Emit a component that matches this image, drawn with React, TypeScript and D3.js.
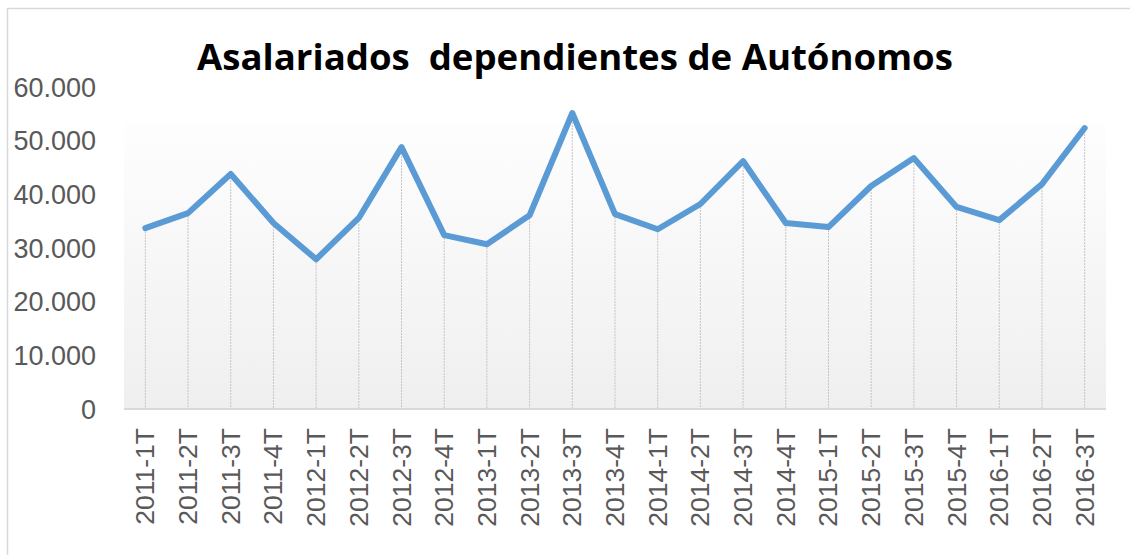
import React, { useEffect, useRef } from "react";
import * as d3 from "d3";

const categories = [
  "2011-1T", "2011-2T", "2011-3T", "2011-4T",
  "2012-1T", "2012-2T", "2012-3T", "2012-4T",
  "2013-1T", "2013-2T", "2013-3T", "2013-4T",
  "2014-1T", "2014-2T", "2014-3T", "2014-4T",
  "2015-1T", "2015-2T", "2015-3T", "2015-4T",
  "2016-1T", "2016-2T", "2016-3T",
];
const values = [
  33700, 36500, 43800, 34650,
  27900, 35600, 48800, 32400,
  30700, 36100, 55150, 36300,
  33500, 38200, 46200, 34650,
  33900, 41550, 46750, 37650,
  35200, 41900, 52350,
];
const yTicks = [0, 10000, 20000, 30000, 40000, 50000, 60000];
const title = "Asalariados  dependientes de Autónomos";

const W = 1130, H = 555;

export default function App() {
  const ref = useRef<SVGSVGElement>(null);

  useEffect(() => {
    const svg = d3.select(ref.current);
    svg.selectAll("*").remove();

    const left = 124, right = 1106, top = 122, bottom = 409;

    // gradient for plot area
    const grad = svg.append("defs").append("linearGradient")
      .attr("id", "bg").attr("x1", 0).attr("y1", 0).attr("x2", 0).attr("y2", 1);
    grad.append("stop").attr("offset", "0%").attr("stop-color", "#fefefe");
    grad.append("stop").attr("offset", "100%").attr("stop-color", "#efefef");

    // chart border (right and bottom edges fall outside the picture)
    svg.append("rect")
      .attr("x", 7.5).attr("y", 8.5)
      .attr("width", W).attr("height", 560)
      .attr("fill", "#fff").attr("stroke", "#d9d9d9").attr("stroke-width", 1.5);

    svg.append("text")
      .attr("x", 575).attr("y", 70)
      .attr("text-anchor", "middle")
      .attr("font-family", "'Open Sans', sans-serif")
      .attr("font-weight", "bold")
      .attr("font-size", 36.6)
      .attr("fill", "#000")
      .style("white-space", "pre")
      .text(title);

    const x = d3.scaleBand().domain(categories).range([left, right]);
    const y = d3.scaleLinear().domain([0, 60000]).range([bottom, 87]);
    const cx = (c: string) => (x(c) as number) + x.bandwidth() / 2;

    svg.append("rect")
      .attr("x", left).attr("y", top)
      .attr("width", right - left).attr("height", bottom - top)
      .attr("fill", "url(#bg)");

    // drop lines
    svg.append("g").selectAll("line")
      .data(categories)
      .join("line")
      .attr("x1", d => cx(d)).attr("x2", d => cx(d))
      .attr("y1", (d, i) => y(values[i])).attr("y2", bottom)
      .attr("stroke", "#c4c4c4").attr("stroke-width", 1)
      .attr("stroke-dasharray", "2,1");

    // axis line
    svg.append("line")
      .attr("x1", left).attr("x2", right)
      .attr("y1", bottom).attr("y2", bottom)
      .attr("stroke", "#d9d9d9").attr("stroke-width", 2);

    // y labels
    svg.append("g").selectAll("text")
      .data(yTicks)
      .join("text")
      .attr("x", 96).attr("y", d => y(d))
      .attr("dy", "0.36em")
      .attr("text-anchor", "end")
      .attr("font-family", "'Liberation Sans', Arial, sans-serif")
      .attr("font-size", 27)
      .attr("fill", "#595959")
      .text(d => d === 0 ? "0" : d3.format(",")(d).replace(/,/g, "."));

    // x labels
    svg.append("g").selectAll("text")
      .data(categories)
      .join("text")
      .attr("transform", d => `translate(${cx(d) + 9},428) rotate(-90)`)
      .attr("text-anchor", "end")
      .attr("font-family", "'Liberation Sans', Arial, sans-serif")
      .attr("font-size", 26.5)
      .attr("fill", "#595959")
      .text(d => d);

    const line = d3.line<number>()
      .x((d, i) => cx(categories[i]))
      .y(d => y(d));

    svg.append("path")
      .datum(values)
      .attr("d", line)
      .attr("fill", "none")
      .attr("stroke", "#5b9bd5")
      .attr("stroke-width", 6)
      .attr("stroke-linejoin", "round")
      .attr("stroke-linecap", "round");
  }, []);

  return (
    <svg ref={ref} width={W} height={H}
      style={{ position: "absolute", left: 0, top: 0, display: "block" }} />
  );
}
